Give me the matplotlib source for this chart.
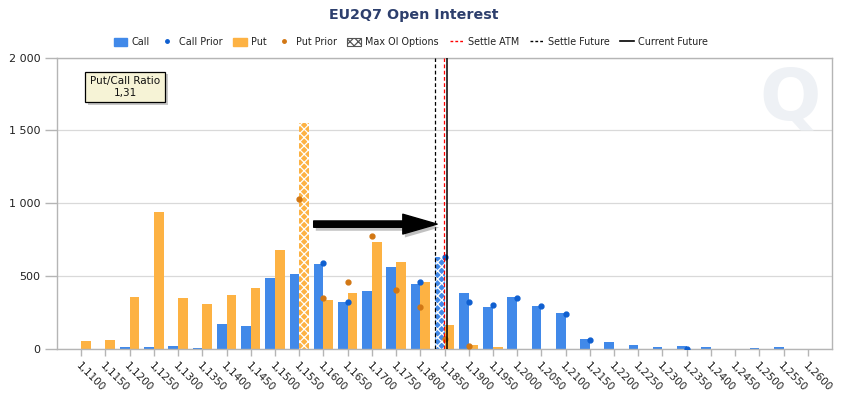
import numpy as np
import matplotlib
matplotlib.use("Agg")
import matplotlib.pyplot as plt
from matplotlib.patches import Patch, FancyArrowPatch
from matplotlib.lines import Line2D
import matplotlib.patheffects as pe

plt.rcParams['font.family'] = ['DejaVu Sans']
plt.rcParams['hatch.linewidth'] = 0.9

strikes = ["1,1100", "1,1150", "1,1200", "1,1250", "1,1300", "1,1350", "1,1400", "1,1450",
           "1,1500", "1,1550", "1,1600", "1,1650", "1,1700", "1,1750", "1,1800", "1,1850",
           "1,1900", "1,1950", "1,2000", "1,2050", "1,2100", "1,2150", "1,2200", "1,2250",
           "1,2300", "1,2350", "1,2400", "1,2450", "1,2500", "1,2550", "1,2600"]
call = [0, 0, 18, 15, 25, 8, 173, 160, 488, 516, 584, 324, 400, 564, 447, 630,
        386, 290, 358, 297, 249, 71, 48, 29, 16, 22, 16, 0, 8, 16, 0]
put = [57, 63, 358, 940, 351, 310, 372, 420, 680, 1550, 338, 386, 735, 598, 461, 166,
       29, 16, 0, 0, 0, 0, 0, 0, 0, 0, 0, 0, 0, 0, 0]
nan = np.nan
call_prior = [nan, nan, nan, nan, nan, nan, nan, nan, nan, nan, 591, 324, nan, nan, 463, 634,
              326, 303, 354, 299, 242, 64, nan, nan, nan, 3, nan, nan, nan, nan, nan]
put_prior = [nan, nan, nan, nan, nan, nan, nan, nan, nan, 1030, 354, 461, 774, 406, 292, 71,
             22, nan, nan, nan, nan, nan, nan, nan, nan, nan, nan, nan, nan, nan, nan]
max_call_idx = 15
max_put_idx = 9
strike_start = 1.1100
strike_step = 0.0050
settle_atm = 1.1850
settle_future = 1.18306
current_future = 1.18545
put_call_ratio = "1,31"
arrow_from = (1.15742, 858)
arrow_to = (1.18405, 858)

C_CALL = '#4189e9'
C_PUT = '#fdb243'
C_CALLP = '#0f5fd0'
C_PUTP = '#d27714'

fig = plt.figure(figsize=(8.42, 3.93), dpi=100)
ax = fig.add_axes([57/842, 1-349.3/393, (832-57)/842, (349.3-57.5)/393])

x = np.arange(len(strikes))
w = 0.4
for i in x:
    hc = (i == max_call_idx)
    hp = (i == max_put_idx)
    if call[i] > 0:
        ax.bar(i - w/2, call[i], width=w, color=C_CALL,
               edgecolor='white' if hc else C_CALL, hatch='xxxx' if hc else None,
               linewidth=0, zorder=2)
    if put[i] > 0:
        ax.bar(i + w/2, put[i], width=w, color=C_PUT,
               edgecolor='white' if hp else C_PUT, hatch='xxxx' if hp else None,
               linewidth=0, zorder=2)

ax.plot(x, call_prior, linestyle='none', marker='o', markersize=3.5, color=C_CALLP, zorder=4)
ax.plot(x, put_prior, linestyle='none', marker='o', markersize=3.5, color=C_PUTP, zorder=4)

def to_idx(v):
    return (v - strike_start) / strike_step

ax.axvline(to_idx(settle_future), color='black', linestyle=(0, (3, 2)), linewidth=0.9, zorder=5)
ax.axvline(to_idx(current_future), color='black', linewidth=1.1, zorder=5)
ax.axvline(to_idx(settle_atm), color='red', linestyle=(0, (3, 2)), linewidth=0.9, zorder=6)

arr = FancyArrowPatch((to_idx(arrow_from[0]), arrow_from[1]), (to_idx(arrow_to[0]), arrow_to[1]),
                      arrowstyle='simple,head_length=1.3,head_width=0.75,tail_width=0.24',
                      mutation_scale=19, color='black', zorder=6)
arr.set_path_effects([pe.SimplePatchShadow(offset=(1.5, -2.5), shadow_rgbFace='#777777', alpha=0.45),
                      pe.Normal()])
ax.add_patch(arr)

ax.set_xlim(-1, len(strikes))
ax.set_ylim(0, 2000)
ax.set_yticks([0, 500, 1000, 1500, 2000])
ax.set_yticklabels(['0', '500', '1 000', '1 500', '2 000'])
ax.set_xticks(x)
ax.set_xticklabels(strikes, rotation=-45, ha='left', va='top', rotation_mode='anchor')
ax.grid(axis='y', color='#d9d9d9', linewidth=0.9, zorder=0)
ax.set_axisbelow(True)
for s in ['left', 'top', 'right', 'bottom']:
    ax.spines[s].set_color('#b5b5b5')
    ax.spines[s].set_linewidth(1.0)
ax.tick_params(axis='x', colors='#b5b5b5', length=5, width=1, labelcolor='#222222',
               labelsize=7.5, pad=3)
ax.tick_params(axis='y', colors='#b5b5b5', length=9, width=1, labelcolor='#222222',
               labelsize=8, pad=3)

# watermark
fig.text(790/842, 1-100/393, 'Q', fontsize=52, fontweight='bold', color='#eef1f5',
         ha='center', va='center', zorder=0)

# title
fig.text(414/842, 1-15/393, 'EU2Q7 Open Interest', ha='center', va='center',
         fontsize=10.3, fontweight='bold', color='#2d3f6d')

# ratio box
t = fig.text(125/842, 1-87/393, 'Put/Call Ratio\n' + put_call_ratio, ha='center', va='center',
             fontsize=7.5, color='#111111', linespacing=1.2,
             bbox=dict(boxstyle='square,pad=0.45', facecolor='#f6f3d6', edgecolor='black',
                       linewidth=0.9))
t.get_bbox_patch().set_path_effects([pe.SimplePatchShadow(offset=(2, -2), shadow_rgbFace='#777777',
                                                          alpha=0.4), pe.Normal()])

handles = [
    Patch(facecolor=C_CALL, edgecolor=C_CALL),
    Line2D([], [], linestyle='none', marker='o', markersize=2.5, color=C_CALLP),
    Patch(facecolor=C_PUT, edgecolor=C_PUT),
    Line2D([], [], linestyle='none', marker='o', markersize=2.5, color=C_PUTP),
    Patch(facecolor='white', edgecolor='#555555', hatch='xxxx', linewidth=0.8),
    Line2D([], [], color='red', linestyle=(0, (2, 1.5)), linewidth=1),
    Line2D([], [], color='black', linestyle=(0, (2, 1.5)), linewidth=1),
    Line2D([], [], color='black', linewidth=1.2),
]
labels = ['Call', 'Call Prior', 'Put', 'Put Prior', 'Max OI Options', 'Settle ATM',
          'Settle Future', 'Current Future']
fig.legend(handles, labels, loc='center', bbox_to_anchor=(411/842, 1-42/393), ncol=8,
           frameon=False, fontsize=6.9, handlelength=1.4, handleheight=0.9,
           handletextpad=0.5, columnspacing=1.1, labelcolor='#222222')

fig.savefig('out.png', dpi=100)
